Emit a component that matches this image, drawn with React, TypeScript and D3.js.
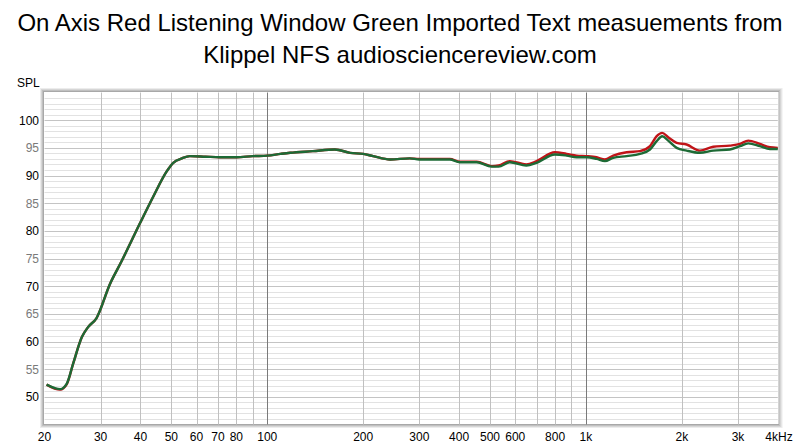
import React from "react";
import * as d3 from "d3";

const titleLines = [
  "On Axis Red Listening Window Green Imported Text measuements from",
  "Klippel NFS audiosciencereview.com",
];

const freqs = [20.3, 21.5, 22.4, 23.5, 24.6, 26.2, 27.4, 29.1, 32.1, 34.9, 39.9, 43.9, 48.3, 50.7, 54, 57.2, 64, 71, 80, 90, 100, 110, 118, 139, 163, 182, 200, 215, 243, 280, 300, 374, 402, 454, 506, 532, 577, 650, 700, 799, 870, 935, 1005, 1080, 1147, 1218, 1342, 1477, 1588, 1667, 1735, 1812, 1926, 2070, 2279, 2508, 2830, 3043, 3231, 3516, 3778, 4000];

const listeningWindow = [52.2, 51.6, 51.4, 52.4, 56.0, 60.8, 62.6, 64.2, 70.4, 74.5, 81.4, 86.2, 90.7, 92.3, 93.1, 93.5, 93.4, 93.3, 93.3, 93.5, 93.6, 93.9, 94.1, 94.4, 94.7, 94.1, 93.9, 93.5, 92.9, 93.1, 92.9, 92.9, 92.4, 92.4, 91.6, 91.6, 92.4, 91.8, 92.3, 93.8, 93.6, 93.3, 93.3, 93.0, 92.6, 93.2, 93.5, 93.9, 94.7, 96.2, 97.1, 96.3, 95.0, 94.5, 94.1, 94.5, 94.7, 95.3, 95.8, 95.3, 94.8, 94.8];

const onAxis = [52.2, 51.5, 51.3, 52.3, 56.0, 60.8, 62.6, 64.2, 70.4, 74.5, 81.4, 86.2, 90.7, 92.3, 93.1, 93.5, 93.4, 93.3, 93.3, 93.5, 93.6, 93.9, 94.1, 94.4, 94.7, 94.1, 93.9, 93.5, 92.9, 93.1, 93.0, 93.0, 92.5, 92.5, 91.7, 91.8, 92.6, 92.0, 92.6, 94.2, 93.9, 93.6, 93.5, 93.3, 92.9, 93.6, 94.2, 94.4, 95.3, 97.1, 97.7, 96.9, 95.9, 95.6, 94.5, 95.2, 95.4, 95.7, 96.3, 95.7, 95.1, 95.0];

const xTickValues = [20, 30, 40, 50, 60, 70, 80, 100, 200, 300, 400, 500, 600, 800, 1000, 2000, 3000, 4000];
const xTickLabels = ["20", "30", "40", "50", "60", "70", "80", "100", "200", "300", "400", "500", "600", "800", "1k", "2k", "3k", "4kHz"];
const xGridValues = [30, 40, 50, 60, 70, 80, 90, 100, 200, 300, 400, 500, 600, 700, 800, 900, 1000, 2000, 3000];
const yTickValues = [50, 55, 60, 65, 70, 75, 80, 85, 90, 95, 100];

const W = 800;
const H = 448;
const X0 = 44.5;
const X1 = 777.8;
const Y0 = 92.5;
const Y1 = 424.5;

export default function App() {
  const x = d3.scaleLog().domain([20, 4000]).range([X0, X1]);
  const y = d3.scaleLinear().domain([45, 105]).range([Y1, Y0]);

  const line = d3
    .line<number>()
    .x((_, i) => x(freqs[i]))
    .y((d) => y(d))
    .curve(d3.curveMonotoneX);

  const minorY = d3.range(46, 105, 1);

  return (
    <svg
      width={W}
      height={H}
      style={{ position: "absolute", left: 0, top: 0, fontFamily: "'Liberation Sans', Arial, sans-serif" }}
    >
      <rect x={0} y={0} width={W} height={H} fill="#fff" />
      {titleLines.map((t, i) => (
        <text key={i} x={400} y={31 + i * 32} textAnchor="middle" fontSize={24} fill="#000">
          {t}
        </text>
      ))}
      <text x={17} y={87} fontSize={12} fill="#000">SPL</text>

      {/* frame */}
      <rect x={40.5} y={88.5} width={741.5} height={339} fill="none" stroke="#ececec" strokeWidth={1} />
      <rect x={41.5} y={89.5} width={739.5} height={337} fill="none" stroke="#d6d6d6" strokeWidth={1} />
      <rect x={42.5} y={90.5} width={737.5} height={335} fill="none" stroke="#c0c0c0" strokeWidth={1} />
      <rect x={43.5} y={91.5} width={735.5} height={333} fill="#fff" stroke="#a8a8a8" strokeWidth={1} />

      {/* horizontal grid */}
      {minorY.map((v) => (
        <line
          key={"h" + v}
          x1={X0}
          x2={X1}
          y1={Math.round(y(v)) + 0.5}
          y2={Math.round(y(v)) + 0.5}
          stroke={v % 5 === 0 ? "#c4c4c4" : "#e2e2e2"}
          strokeWidth={1}
        />
      ))}
      {/* vertical grid */}
      {xGridValues.map((v) => (
        <line
          key={"v" + v}
          x1={Math.round(x(v)) + 0.5}
          x2={Math.round(x(v)) + 0.5}
          y1={Y0}
          y2={Y1}
          stroke={v === 100 || v === 1000 ? "#7a7a7a" : "#c0c0c0"}
          strokeWidth={1}
        />
      ))}

      {/* curves */}
      <path d={line(onAxis) || ""} fill="none" stroke="#c01418" strokeWidth={2.4} strokeLinejoin="round" />
      <path d={line(listeningWindow) || ""} fill="none" stroke="#1d6a35" strokeWidth={2.4} strokeLinejoin="round" />

      {/* y labels */}
      {yTickValues.map((v) => (
        <text
          key={"yl" + v}
          x={39}
          y={y(v) + 4.5}
          textAnchor="end"
          fontSize={12}
          fill={v % 10 === 0 ? "#000" : "#7a7a7a"}
        >
          {v}
        </text>
      ))}
      {/* x labels */}
      {xTickValues.map((v, i) => (
        <text
          key={"xl" + v}
          x={v === 4000 ? 779 : x(v)}
          y={441}
          textAnchor="middle"
          fontSize={12}
          fill="#000"
        >
          {xTickLabels[i]}
        </text>
      ))}
    </svg>
  );
}
